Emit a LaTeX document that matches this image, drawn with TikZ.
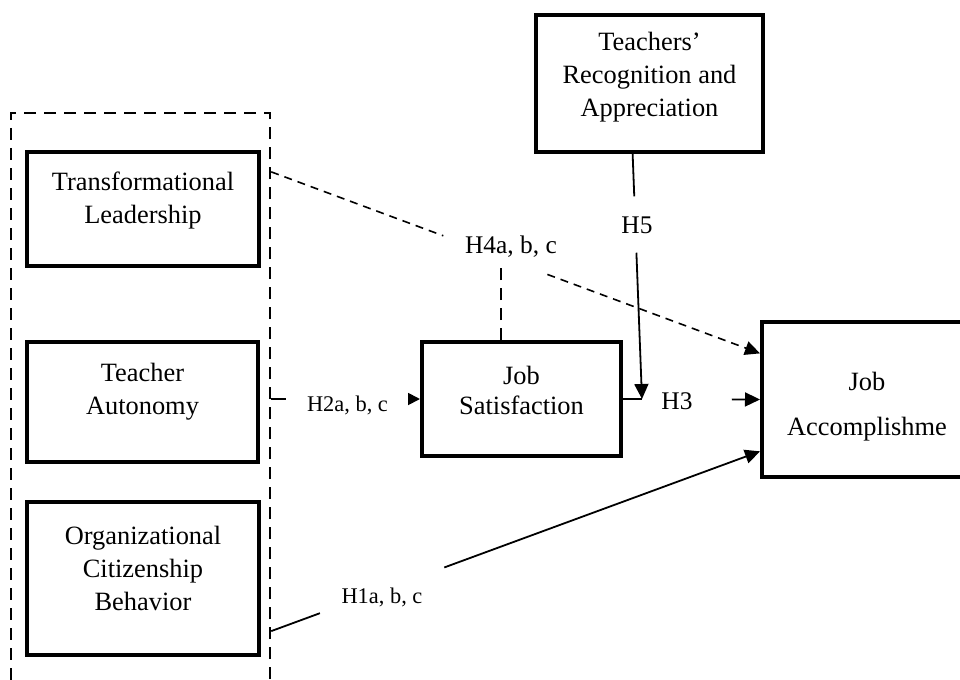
\documentclass[tikz,border=0pt]{standalone}
\usepackage{fontspec}
\setmainfont{Liberation Serif}
\usetikzlibrary{arrows.meta,calc,positioning}

\tikzset{
  construct/.style={rectangle, draw=black, line width=2pt, inner sep=0pt},
  caption/.style={align=center, font=\fontsize{13.2}{16.5}\selectfont},
  hyp/.style={inner sep=0pt, font=\fontsize{12.7}{14}\selectfont},
  hypsmall/.style={inner sep=0pt, font=\fontsize{11.2}{13}\selectfont},
  link/.style={line width=0.9pt},
  dlink/.style={line width=0.8pt, dash pattern=on 4pt off 3pt},
  gdash/.style={line width=1.25pt, dash pattern=on 6pt off 4pt},
  arrow/.style={-{Triangle[length=7.5pt,width=7pt]}},
  smallarrow/.style={-{Triangle[length=6pt,width=6pt]}}
}

\begin{document}
\begin{tikzpicture}[x=0.5pt,y=-0.5pt]

\clip (0,0) rectangle (960,680);
\fill[white] (0,0) rectangle (960,680);

% predictors
\node (grp) [gdash, draw, minimum width=129.5pt, minimum height=293.5pt, inner sep=0pt] at (140.5,406.5) {};
\node (tl) [construct, minimum width=116pt, minimum height=57pt] at (143,209) {};
\node (tltext) [caption] at ($(tl)+(0,-8.5)$) {Transformational\\Leadership};
\node (ta) [construct, minimum width=115.5pt, minimum height=60pt] at (142.5,402) {};
\node (tatext) [caption] at ($(ta)+(0,-10)$) {Teacher\\Autonomy};
\node (ocb) [construct, minimum width=116pt, minimum height=76.5pt] at (143,578.5) {};
\node (ocbtext) [caption] at ($(ocb)+(0,-10)$) {Organizational\\Citizenship\\Behavior};
%
\node (js) [construct, minimum width=99.5pt, minimum height=57pt] at (521.5,399) {};
\node (jstext) [caption, font=\fontsize{13.2}{15}\selectfont] at ($(js)+(0,-9)$) {Job\\Satisfaction};
\node (tra) [construct, minimum width=113.5pt, minimum height=68.5pt] at (649.5,83.5) {};
\node (tratext) [caption] at ($(tra)+(0,-6)$) {Teachers'\\Recognition and\\Appreciation};
\node (ja) [construct, minimum width=105pt, minimum height=77.5pt] at (867,399.5) {};
\node (jatext) [caption, font=\fontsize{13.2}{22.5}\selectfont] at ($(ja)+(0,7)$) {Job\\Accomplishme};

% H2
\coordinate (h2s) at (js.west -| grp.east);
\draw [link] (h2s) -- ($(h2s)!0.099!(js.west)$);
\node (lh2) [hypsmall] at (347.5,405) {H2a, b, c};
\draw [link,smallarrow] ($(h2s)!0.92!(js.west)$) -- (js.west);

% H3 and H5
\coordinate (h3j) at ($(js.east)+(19,0)$);
\draw [link] (js.east) -- (h3j);
\node (lh3) [hyp] at (677,401) {H3};
\draw [link,arrow] ($(js.east)!0.794!(ja.west)$) -- (ja.west);
\coordinate (h5s) at ($(tra.south west)!0.427!(tra.south east)$);
\draw [link] (h5s) -- ($(h5s)!0.173!(h3j)$);
\node (lh5) [hyp] at (637,225) {H5};
\draw [link,arrow] ($(h5s)!0.403!(h3j)$) -- (h3j);

% H4
\coordinate (h4s) at ($(grp.north east)!0.102!(grp.south east)$);
\coordinate (h4e) at ($(ja.north west)!0.21!(ja.south west)$);
\draw [dlink] (h4s) -- ($(h4s)!0.352!(h4e)$);
\node (lh4) [hyp] at (511,247) {H4a, b, c};
\draw [dlink,arrow] ($(h4s)!0.565!(h4e)$) -- (h4e);
\draw [gdash] ($(js.north west)!0.4!(js.north east)$) -- ++(0,-77);

% H1
\coordinate (h1s) at ($(grp.north east)!0.881!(grp.south east)$);
\coordinate (h1e) at ($(ja.north west)!0.826!(ja.south west)$);
\draw [link] (h1s) -- ($(h1s)!0.0996!(h1e)$);
\node (lh1) [hypsmall] at (382,597) {H1a, b, c};
\draw [link,arrow] ($(h1s)!0.354!(h1e)$) -- (h1e);

\end{tikzpicture}
\end{document}
